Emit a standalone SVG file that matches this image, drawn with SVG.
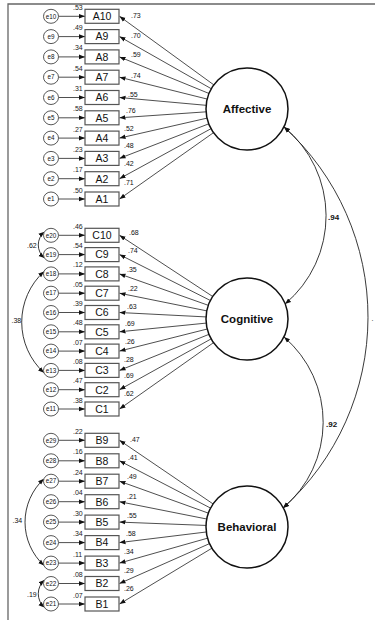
<svg xmlns="http://www.w3.org/2000/svg" width="375" height="620" viewBox="0 0 375 620">
<defs>
<marker id="ah" viewBox="0 0 10 10" refX="10" refY="5" markerWidth="6" markerHeight="6" markerUnits="userSpaceOnUse" orient="auto-start-reverse"><path d="M0,1.2 L10,5 L0,8.8 z" fill="#111"/></marker>
<style>
.frame{stroke:#666;stroke-width:1.3;fill:none}
.box{fill:#fff;stroke:#555;stroke-width:1.2}
.err{fill:#fff;stroke:#444;stroke-width:0.9}
.lat{fill:#fff;stroke:#111;stroke-width:1.5}
.ln{stroke:#222;stroke-width:0.8;fill:none;marker-end:url(#ah)}
.cv{stroke:#222;stroke-width:0.9;fill:none;marker-start:url(#ah);marker-end:url(#ah)}
text{font-family:"Liberation Sans",Arial,sans-serif;fill:#111}
.bt{font-size:10.5px;text-anchor:middle}
.et{font-size:6.3px;text-anchor:middle}
.n{font-size:7px;fill:#222}
.nb{font-size:8px;font-weight:bold}
.lt{font-size:11.5px;font-weight:bold;text-anchor:middle}
</style>
</defs>
<rect width="375" height="620" fill="#fff"/>
<path class="frame" d="M8,620 V4 H375"/>
<g id="connectors">
<line class="ln" x1="247" y1="109" x2="119.5" y2="16.3"/>
<line class="ln" x1="247" y1="109" x2="119.5" y2="36.6"/>
<line class="ln" x1="247" y1="109" x2="119.5" y2="56.9"/>
<line class="ln" x1="247" y1="109" x2="119.5" y2="77.2"/>
<line class="ln" x1="247" y1="109" x2="119.5" y2="97.5"/>
<line class="ln" x1="247" y1="109" x2="119.5" y2="117.8"/>
<line class="ln" x1="247" y1="109" x2="119.5" y2="138.1"/>
<line class="ln" x1="247" y1="109" x2="119.5" y2="158.4"/>
<line class="ln" x1="247" y1="109" x2="119.5" y2="178.7"/>
<line class="ln" x1="247" y1="109" x2="119.5" y2="199"/>
<line class="ln" x1="247" y1="319" x2="119.5" y2="235.3"/>
<line class="ln" x1="247" y1="319" x2="119.5" y2="254.6"/>
<line class="ln" x1="247" y1="319" x2="119.5" y2="273.9"/>
<line class="ln" x1="247" y1="319" x2="119.5" y2="293.2"/>
<line class="ln" x1="247" y1="319" x2="119.5" y2="312.5"/>
<line class="ln" x1="247" y1="319" x2="119.5" y2="331.8"/>
<line class="ln" x1="247" y1="319" x2="119.5" y2="351.1"/>
<line class="ln" x1="247" y1="319" x2="119.5" y2="370.4"/>
<line class="ln" x1="247" y1="319" x2="119.5" y2="389.7"/>
<line class="ln" x1="247" y1="319" x2="119.5" y2="409"/>
<line class="ln" x1="247" y1="527" x2="119.5" y2="440.3"/>
<line class="ln" x1="247" y1="527" x2="119.5" y2="460.8"/>
<line class="ln" x1="247" y1="527" x2="119.5" y2="481.2"/>
<line class="ln" x1="247" y1="527" x2="119.5" y2="501.7"/>
<line class="ln" x1="247" y1="527" x2="119.5" y2="522.1"/>
<line class="ln" x1="247" y1="527" x2="119.5" y2="542.6"/>
<line class="ln" x1="247" y1="527" x2="119.5" y2="563.1"/>
<line class="ln" x1="247" y1="527" x2="119.5" y2="583.5"/>
<line class="ln" x1="247" y1="527" x2="119.5" y2="604"/>
<line class="ln" x1="58.5" y1="16.3" x2="85" y2="16.3"/>
<line class="ln" x1="58.5" y1="36.6" x2="85" y2="36.6"/>
<line class="ln" x1="58.5" y1="56.9" x2="85" y2="56.9"/>
<line class="ln" x1="58.5" y1="77.2" x2="85" y2="77.2"/>
<line class="ln" x1="58.5" y1="97.5" x2="85" y2="97.5"/>
<line class="ln" x1="58.5" y1="117.8" x2="85" y2="117.8"/>
<line class="ln" x1="58.5" y1="138.1" x2="85" y2="138.1"/>
<line class="ln" x1="58.5" y1="158.4" x2="85" y2="158.4"/>
<line class="ln" x1="58.5" y1="178.7" x2="85" y2="178.7"/>
<line class="ln" x1="58.5" y1="199" x2="85" y2="199"/>
<line class="ln" x1="58.5" y1="235.3" x2="85" y2="235.3"/>
<line class="ln" x1="58.5" y1="254.6" x2="85" y2="254.6"/>
<line class="ln" x1="58.5" y1="273.9" x2="85" y2="273.9"/>
<line class="ln" x1="58.5" y1="293.2" x2="85" y2="293.2"/>
<line class="ln" x1="58.5" y1="312.5" x2="85" y2="312.5"/>
<line class="ln" x1="58.5" y1="331.8" x2="85" y2="331.8"/>
<line class="ln" x1="58.5" y1="351.1" x2="85" y2="351.1"/>
<line class="ln" x1="58.5" y1="370.4" x2="85" y2="370.4"/>
<line class="ln" x1="58.5" y1="389.7" x2="85" y2="389.7"/>
<line class="ln" x1="58.5" y1="409" x2="85" y2="409"/>
<line class="ln" x1="58.5" y1="440.3" x2="85" y2="440.3"/>
<line class="ln" x1="58.5" y1="460.8" x2="85" y2="460.8"/>
<line class="ln" x1="58.5" y1="481.2" x2="85" y2="481.2"/>
<line class="ln" x1="58.5" y1="501.7" x2="85" y2="501.7"/>
<line class="ln" x1="58.5" y1="522.1" x2="85" y2="522.1"/>
<line class="ln" x1="58.5" y1="542.6" x2="85" y2="542.6"/>
<line class="ln" x1="58.5" y1="563.1" x2="85" y2="563.1"/>
<line class="ln" x1="58.5" y1="583.5" x2="85" y2="583.5"/>
<line class="ln" x1="58.5" y1="604" x2="85" y2="604"/>
<path class="cv" d="M284,127 A115,115 0 0 1 285,304"/>
<path class="cv" d="M284,337 A112,112 0 0 1 283,508"/>
<path class="cv" d="M284,127 A257,257 0 0 1 283,508"/>
<path class="cv" d="M44.5,231.8 A17,17 0 0 0 44.5,258.1"/>
<path class="cv" d="M44,271.5 A68.7,68.7 0 0 0 44,372.8"/>
<path class="cv" d="M44,478.8 A59,59 0 0 0 44,565.5"/>
<path class="cv" d="M44.5,580 A18.3,18.3 0 0 0 44.5,607.5"/>
<g class="n">
<text x="131" y="17.5">.73</text><text x="131" y="37.5">.70</text><text x="131" y="56.8">.59</text><text x="131" y="77.8">.74</text><text x="128" y="96.8">.55</text><text x="126" y="112.5">.76</text><text x="124" y="130.5">.52</text><text x="124" y="148.2">.48</text><text x="124" y="165.5">.42</text><text x="124" y="185.2">.71</text>
<text x="129" y="235.2">.68</text><text x="128" y="252.5">.74</text><text x="127" y="271.8">.35</text><text x="128" y="291.2">.22</text><text x="127" y="308.8">.63</text><text x="125" y="325.8">.69</text><text x="125" y="343.5">.26</text><text x="124" y="361.5">.28</text><text x="124" y="377.5">.69</text><text x="124" y="395.5">.62</text>
<text x="130" y="441.5">.47</text><text x="128" y="459.8">.41</text><text x="127" y="479.2">.49</text><text x="127" y="499.2">.21</text><text x="127" y="517.8">.55</text><text x="126" y="535.8">.58</text><text x="124" y="553.5">.34</text><text x="124" y="572.5">.29</text><text x="124" y="590.8">.26</text>
<text x="27" y="247.5">.62</text><text x="11.5" y="323">.38</text><text x="12.5" y="522.5">.34</text><text x="27" y="596.5">.19</text>
<text x="371.5" y="321">.</text>
</g>
<text class="nb" x="328" y="220">.94</text>
<text class="nb" x="326" y="426.5">.92</text>
</g>
<g id="Affective"><circle class="lat" cx="247" cy="109" r="41"/><text class="lt" x="247" y="113">Affective</text></g>
<g id="Cognitive"><circle class="lat" cx="247" cy="319" r="41"/><text class="lt" x="247" y="323">Cognitive</text></g>
<g id="Behavioral"><circle class="lat" cx="247" cy="527" r="41"/><text class="lt" x="247" y="531">Behavioral</text></g>
<g id="A10"><rect class="box" x="85" y="9.3" width="34" height="14"/><text class="bt" x="102" y="20.1">A10</text><text class="n" x="73" y="9.8">.53</text></g>
<g id="A9"><rect class="box" x="85" y="29.6" width="34" height="14"/><text class="bt" x="102" y="40.4">A9</text><text class="n" x="73" y="30.1">.49</text></g>
<g id="A8"><rect class="box" x="85" y="49.9" width="34" height="14"/><text class="bt" x="102" y="60.7">A8</text><text class="n" x="73" y="50.4">.34</text></g>
<g id="A7"><rect class="box" x="85" y="70.2" width="34" height="14"/><text class="bt" x="102" y="81">A7</text><text class="n" x="73" y="70.7">.54</text></g>
<g id="A6"><rect class="box" x="85" y="90.5" width="34" height="14"/><text class="bt" x="102" y="101.3">A6</text><text class="n" x="73" y="91">.31</text></g>
<g id="A5"><rect class="box" x="85" y="110.8" width="34" height="14"/><text class="bt" x="102" y="121.6">A5</text><text class="n" x="73" y="111.3">.58</text></g>
<g id="A4"><rect class="box" x="85" y="131.1" width="34" height="14"/><text class="bt" x="102" y="141.9">A4</text><text class="n" x="73" y="131.6">.27</text></g>
<g id="A3"><rect class="box" x="85" y="151.4" width="34" height="14"/><text class="bt" x="102" y="162.2">A3</text><text class="n" x="73" y="151.9">.23</text></g>
<g id="A2"><rect class="box" x="85" y="171.7" width="34" height="14"/><text class="bt" x="102" y="182.5">A2</text><text class="n" x="73" y="172.2">.17</text></g>
<g id="A1"><rect class="box" x="85" y="192" width="34" height="14"/><text class="bt" x="102" y="202.8">A1</text><text class="n" x="73" y="192.5">.50</text></g>
<g id="C10"><rect class="box" x="85" y="228.3" width="34" height="14"/><text class="bt" x="102" y="239.1">C10</text><text class="n" x="73" y="228.8">.46</text></g>
<g id="C9"><rect class="box" x="85" y="247.6" width="34" height="14"/><text class="bt" x="102" y="258.4">C9</text><text class="n" x="73" y="248.1">.54</text></g>
<g id="C8"><rect class="box" x="85" y="266.9" width="34" height="14"/><text class="bt" x="102" y="277.7">C8</text><text class="n" x="73" y="267.4">.12</text></g>
<g id="C7"><rect class="box" x="85" y="286.2" width="34" height="14"/><text class="bt" x="102" y="297">C7</text><text class="n" x="73" y="286.7">.05</text></g>
<g id="C6"><rect class="box" x="85" y="305.5" width="34" height="14"/><text class="bt" x="102" y="316.3">C6</text><text class="n" x="73" y="306">.39</text></g>
<g id="C5"><rect class="box" x="85" y="324.8" width="34" height="14"/><text class="bt" x="102" y="335.6">C5</text><text class="n" x="73" y="325.3">.48</text></g>
<g id="C4"><rect class="box" x="85" y="344.1" width="34" height="14"/><text class="bt" x="102" y="354.9">C4</text><text class="n" x="73" y="344.6">.07</text></g>
<g id="C3"><rect class="box" x="85" y="363.4" width="34" height="14"/><text class="bt" x="102" y="374.2">C3</text><text class="n" x="73" y="363.9">.08</text></g>
<g id="C2"><rect class="box" x="85" y="382.7" width="34" height="14"/><text class="bt" x="102" y="393.5">C2</text><text class="n" x="73" y="383.2">.47</text></g>
<g id="C1"><rect class="box" x="85" y="402" width="34" height="14"/><text class="bt" x="102" y="412.8">C1</text><text class="n" x="73" y="402.5">.38</text></g>
<g id="B9"><rect class="box" x="85" y="433.3" width="34" height="14"/><text class="bt" x="102" y="444.1">B9</text><text class="n" x="73" y="433.8">.22</text></g>
<g id="B8"><rect class="box" x="85" y="453.8" width="34" height="14"/><text class="bt" x="102" y="464.6">B8</text><text class="n" x="73" y="454.3">.16</text></g>
<g id="B7"><rect class="box" x="85" y="474.2" width="34" height="14"/><text class="bt" x="102" y="485">B7</text><text class="n" x="73" y="474.7">.24</text></g>
<g id="B6"><rect class="box" x="85" y="494.7" width="34" height="14"/><text class="bt" x="102" y="505.5">B6</text><text class="n" x="73" y="495.2">.04</text></g>
<g id="B5"><rect class="box" x="85" y="515.1" width="34" height="14"/><text class="bt" x="102" y="525.9">B5</text><text class="n" x="73" y="515.6">.30</text></g>
<g id="B4"><rect class="box" x="85" y="535.6" width="34" height="14"/><text class="bt" x="102" y="546.4">B4</text><text class="n" x="73" y="536.1">.34</text></g>
<g id="B3"><rect class="box" x="85" y="556.1" width="34" height="14"/><text class="bt" x="102" y="566.9">B3</text><text class="n" x="73" y="556.6">.11</text></g>
<g id="B2"><rect class="box" x="85" y="576.5" width="34" height="14"/><text class="bt" x="102" y="587.3">B2</text><text class="n" x="73" y="577">.08</text></g>
<g id="B1"><rect class="box" x="85" y="597" width="34" height="14"/><text class="bt" x="102" y="607.8">B1</text><text class="n" x="73" y="597.5">.07</text></g>
<g id="e10"><ellipse class="err" cx="51" cy="16.3" rx="7.5" ry="7"/><text class="et" x="51" y="18.5">e10</text></g>
<g id="e9"><ellipse class="err" cx="51" cy="36.6" rx="7.5" ry="7"/><text class="et" x="51" y="38.8">e9</text></g>
<g id="e8"><ellipse class="err" cx="51" cy="56.9" rx="7.5" ry="7"/><text class="et" x="51" y="59.1">e8</text></g>
<g id="e7"><ellipse class="err" cx="51" cy="77.2" rx="7.5" ry="7"/><text class="et" x="51" y="79.4">e7</text></g>
<g id="e6"><ellipse class="err" cx="51" cy="97.5" rx="7.5" ry="7"/><text class="et" x="51" y="99.7">e6</text></g>
<g id="e5"><ellipse class="err" cx="51" cy="117.8" rx="7.5" ry="7"/><text class="et" x="51" y="120">e5</text></g>
<g id="e4"><ellipse class="err" cx="51" cy="138.1" rx="7.5" ry="7"/><text class="et" x="51" y="140.3">e4</text></g>
<g id="e3"><ellipse class="err" cx="51" cy="158.4" rx="7.5" ry="7"/><text class="et" x="51" y="160.6">e3</text></g>
<g id="e2"><ellipse class="err" cx="51" cy="178.7" rx="7.5" ry="7"/><text class="et" x="51" y="180.9">e2</text></g>
<g id="e1"><ellipse class="err" cx="51" cy="199" rx="7.5" ry="7"/><text class="et" x="51" y="201.2">e1</text></g>
<g id="e20"><ellipse class="err" cx="51" cy="235.3" rx="7.5" ry="7"/><text class="et" x="51" y="237.5">e20</text></g>
<g id="e19"><ellipse class="err" cx="51" cy="254.6" rx="7.5" ry="7"/><text class="et" x="51" y="256.8">e19</text></g>
<g id="e18"><ellipse class="err" cx="51" cy="273.9" rx="7.5" ry="7"/><text class="et" x="51" y="276.1">e18</text></g>
<g id="e17"><ellipse class="err" cx="51" cy="293.2" rx="7.5" ry="7"/><text class="et" x="51" y="295.4">e17</text></g>
<g id="e16"><ellipse class="err" cx="51" cy="312.5" rx="7.5" ry="7"/><text class="et" x="51" y="314.7">e16</text></g>
<g id="e15"><ellipse class="err" cx="51" cy="331.8" rx="7.5" ry="7"/><text class="et" x="51" y="334">e15</text></g>
<g id="e14"><ellipse class="err" cx="51" cy="351.1" rx="7.5" ry="7"/><text class="et" x="51" y="353.3">e14</text></g>
<g id="e13"><ellipse class="err" cx="51" cy="370.4" rx="7.5" ry="7"/><text class="et" x="51" y="372.6">e13</text></g>
<g id="e12"><ellipse class="err" cx="51" cy="389.7" rx="7.5" ry="7"/><text class="et" x="51" y="391.9">e12</text></g>
<g id="e11"><ellipse class="err" cx="51" cy="409" rx="7.5" ry="7"/><text class="et" x="51" y="411.2">e11</text></g>
<g id="e29"><ellipse class="err" cx="51" cy="440.3" rx="7.5" ry="7"/><text class="et" x="51" y="442.5">e29</text></g>
<g id="e28"><ellipse class="err" cx="51" cy="460.8" rx="7.5" ry="7"/><text class="et" x="51" y="463">e28</text></g>
<g id="e27"><ellipse class="err" cx="51" cy="481.2" rx="7.5" ry="7"/><text class="et" x="51" y="483.4">e27</text></g>
<g id="e26"><ellipse class="err" cx="51" cy="501.7" rx="7.5" ry="7"/><text class="et" x="51" y="503.9">e26</text></g>
<g id="e25"><ellipse class="err" cx="51" cy="522.1" rx="7.5" ry="7"/><text class="et" x="51" y="524.3">e25</text></g>
<g id="e24"><ellipse class="err" cx="51" cy="542.6" rx="7.5" ry="7"/><text class="et" x="51" y="544.8">e24</text></g>
<g id="e23"><ellipse class="err" cx="51" cy="563.1" rx="7.5" ry="7"/><text class="et" x="51" y="565.3">e23</text></g>
<g id="e22"><ellipse class="err" cx="51" cy="583.5" rx="7.5" ry="7"/><text class="et" x="51" y="585.7">e22</text></g>
<g id="e21"><ellipse class="err" cx="51" cy="604" rx="7.5" ry="7"/><text class="et" x="51" y="606.2">e21</text></g>
</svg>
